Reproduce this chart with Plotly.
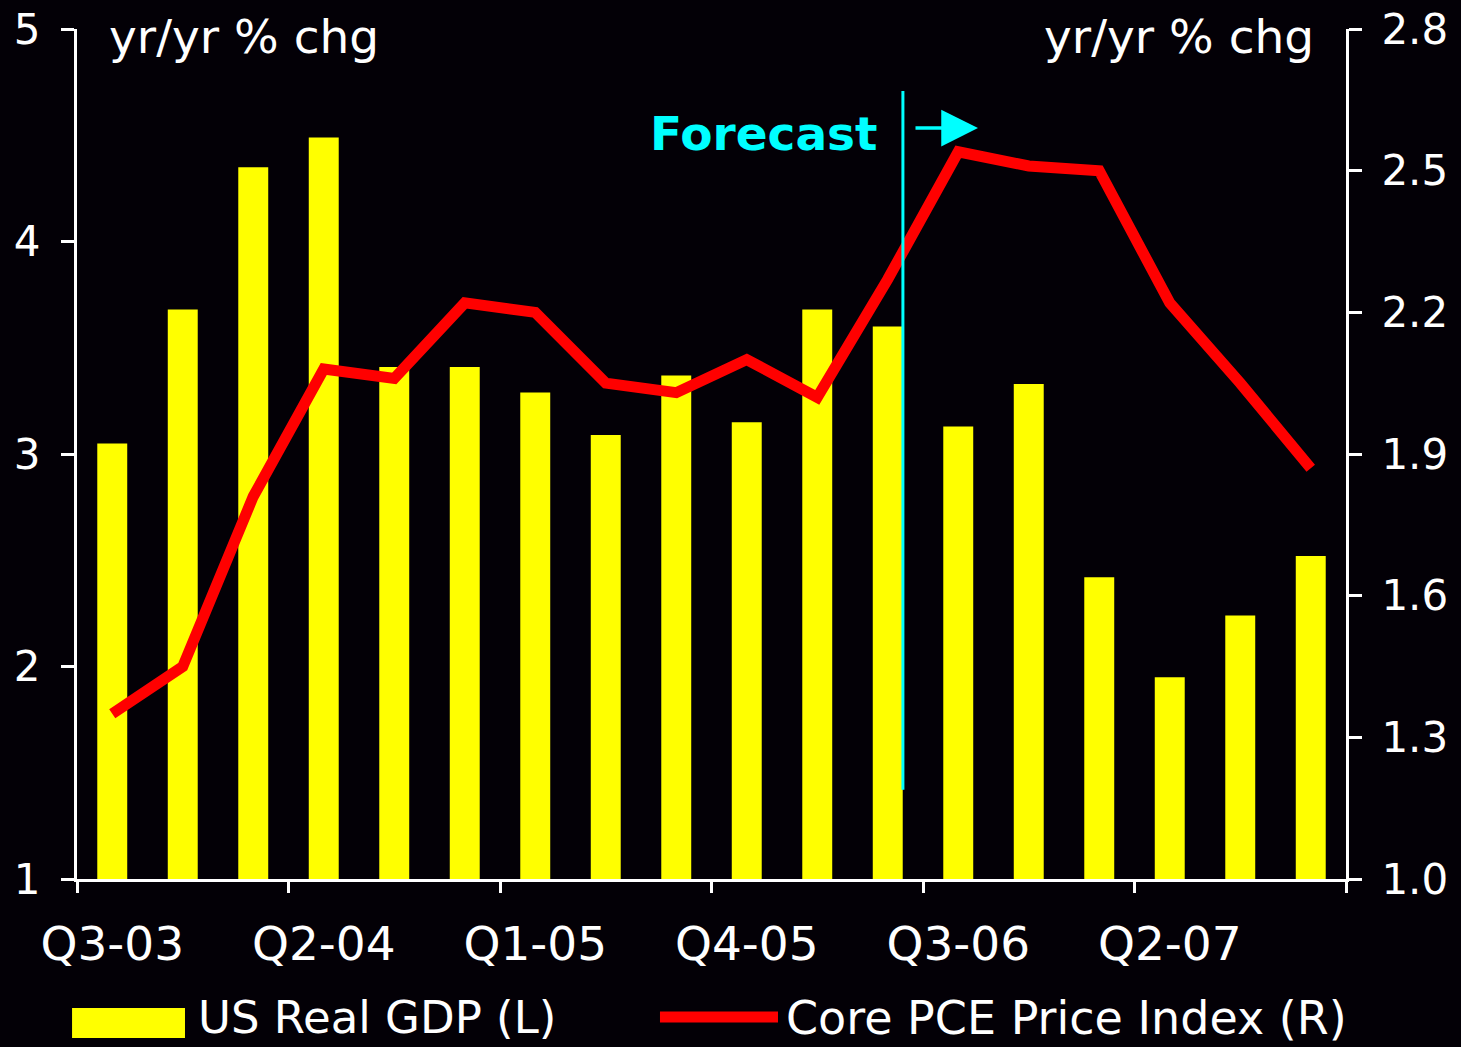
import plotly.graph_objects as go

# Quarterly periods
quarters = ["Q3-03", "Q4-03", "Q1-04", "Q2-04", "Q3-04", "Q4-04",
            "Q1-05", "Q2-05", "Q3-05", "Q4-05", "Q1-06", "Q2-06",
            "Q3-06", "Q4-06", "Q1-07", "Q2-07", "Q3-07", "Q4-07"]

# US Real GDP, yr/yr % chg (left axis)
gdp = [3.05, 3.68, 4.35, 4.49, 3.41, 3.41, 3.29, 3.09, 3.37,
       3.15, 3.68, 3.60, 3.13, 3.33, 2.42, 1.95, 2.24, 2.52]

# Core PCE Price Index, yr/yr % chg (right axis)
core_pce = [1.35, 1.45, 1.81, 2.08, 2.06, 2.22, 2.20, 2.05, 2.03,
            2.10, 2.02, 2.27, 2.54, 2.51, 2.50, 2.22, 2.05, 1.87]

# Axis ticks
left_ticks = [1, 2, 3, 4, 5]
right_ticks = [1.0, 1.3, 1.6, 1.9, 2.2, 2.5, 2.8]
label_quarters = quarters[::3]
boundary_ticks = [i - 0.5 for i in range(0, len(quarters) + 1, 3)]

BG = "#030006"
FONT = "DejaVu Sans"
WHITE = "#ffffff"
YELLOW = "#ffff00"
RED = "#ff0000"
CYAN = "#00ffff"

fig = go.Figure()

fig.add_trace(go.Bar(
    x=quarters, y=gdp, name="US Real GDP (L)",
    marker=dict(color=YELLOW, line=dict(width=0)),
    xaxis="x", yaxis="y",
))

fig.add_trace(go.Scatter(
    x=quarters, y=core_pce, name="Core PCE Price Index (R)",
    mode="lines", line=dict(color=RED, width=11),
    xaxis="x", yaxis="y2",
))

# empty helper trace so the boundary-tick axis gets its own subplot
fig.add_trace(go.Scatter(
    x=[boundary_ticks[0], boundary_ticks[-1]], y=[None, None],
    mode="lines", xaxis="x2", yaxis="y",
    hoverinfo="skip", showlegend=False,
))

axis_common = dict(
    showgrid=False, zeroline=False, showline=True, automargin=False,
    linecolor=WHITE, linewidth=3,
    ticks="outside", ticklen=13, tickwidth=3, tickcolor=WHITE,
)

fig.update_layout(
    width=1461, height=1047,
    margin=dict(l=77, r=115, t=29, b=168, pad=0, autoexpand=False),
    paper_bgcolor=BG, plot_bgcolor=BG,
    showlegend=False,
    bargap=0.575,
    font=dict(family=FONT, color=WHITE),
    xaxis=dict(
        type="category", range=[-0.5, len(quarters) - 0.5],
        tickmode="array", tickvals=label_quarters, ticktext=label_quarters,
        showgrid=False, zeroline=False, showline=True, automargin=False,
        linecolor=WHITE, linewidth=3, ticks="",
        tickfont=dict(family=FONT, size=47, color=WHITE),
        ticklabelstandoff=22,
    ),
    xaxis2=dict(
        overlaying="x", anchor="y", side="bottom", type="linear",
        range=[-0.5, len(quarters) - 0.5],
        tickmode="array", tickvals=boundary_ticks, automargin=False,
        showticklabels=False, showgrid=False, zeroline=False, showline=False,
        ticks="outside", ticklen=13, tickwidth=3, tickcolor=WHITE,
    ),
    yaxis=dict(
        range=[1, 5], tickmode="array", tickvals=left_ticks,
        tickfont=dict(family=FONT, size=42, color=WHITE),
        ticklabelstandoff=12,
        **axis_common,
    ),
    yaxis2=dict(
        overlaying="y", side="right", anchor="x",
        range=[1.0, 2.8], tickmode="array", tickvals=right_ticks,
        tickformat=".1f",
        tickfont=dict(family=FONT, size=42, color=WHITE),
        ticklabelstandoff=11,
        **axis_common,
    ),
)

# Forecast divider and arrow
forecast_x = 11.215
fig.add_shape(type="line", xref="x", yref="paper",
              x0=forecast_x, x1=forecast_x, y0=0.105, y1=0.927,
              line=dict(color=CYAN, width=3))
fig.add_annotation(xref="x", yref="paper", x=12.28, y=0.8835,
                   text="", showarrow=True, axref="pixel", ayref="pixel",
                   ax=-64, ay=0, arrowhead=2, arrowsize=2.1, arrowwidth=3.5,
                   arrowcolor=CYAN, standoff=0, startstandoff=0)
fig.add_annotation(xref="paper", yref="paper", x=0.6328, y=0.8776,
                   xanchor="right", yanchor="middle", showarrow=False,
                   text="<b>Forecast</b>",
                   font=dict(family=FONT, size=47, color=CYAN))

# Axis unit labels
fig.add_annotation(xref="paper", yref="paper", x=0.0236, y=0.9906,
                   xanchor="left", yanchor="middle", showarrow=False,
                   text="yr/yr % chg", font=dict(family=FONT, size=47, color=WHITE))
fig.add_annotation(xref="paper", yref="paper", x=0.9764, y=0.9906,
                   xanchor="right", yanchor="middle", showarrow=False,
                   text="yr/yr % chg", font=dict(family=FONT, size=47, color=WHITE))

# Legend
fig.add_shape(type="rect", xref="paper", yref="paper",
              x0=-0.0039, x1=0.0851, y0=-0.1871, y1=-0.1518,
              fillcolor=YELLOW, line=dict(width=0))
fig.add_annotation(xref="paper", yref="paper", x=0.0945, y=-0.1635,
                   xanchor="left", yanchor="middle", showarrow=False,
                   borderpad=0,
                   text="US Real GDP (L)", font=dict(family=FONT, size=45, color=WHITE))
fig.add_shape(type="line", xref="paper", yref="paper",
              x0=0.4594, x1=0.5524, y0=-0.1624, y1=-0.1624,
              line=dict(color=RED, width=11))
fig.add_annotation(xref="paper", yref="paper", x=0.5580, y=-0.1635,
                   xanchor="left", yanchor="middle", showarrow=False,
                   borderpad=0,
                   text="Core PCE Price Index (R)", font=dict(family=FONT, size=46, color=WHITE))

fig.write_html("out.html")
